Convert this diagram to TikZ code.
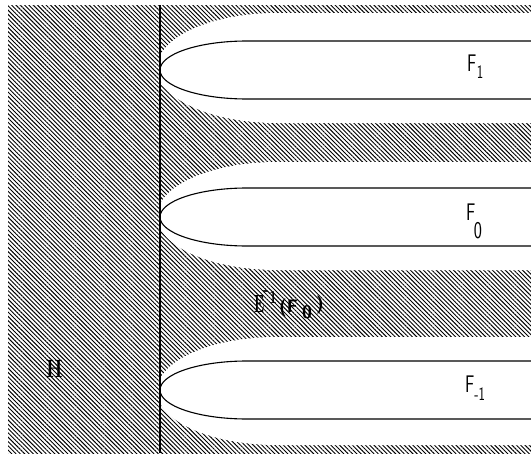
\documentclass[tikz,border=0pt]{standalone}
\usepackage{graphicx}
\usetikzlibrary{patterns.meta}
\newcommand{\sqz}[1]{\scalebox{0.72}[1]{#1}}
\newcommand{\bigsf}{\fontsize{24}{24}\selectfont\sffamily}
\newcommand{\subsf}{\fontsize{19}{19}\selectfont\sffamily}
\begin{document}
\begin{tikzpicture}[x=1pt,y=-1pt,
  hatch/.style={pattern={Lines[angle=-45,distance=3.05pt,line width=0.95pt]},pattern color=black},
  fcurve/.style={draw=black,line width=1.1pt},
  lbl/.style={anchor=base west,inner sep=0pt,text=black}]
\useasboundingbox (0,0) rectangle (531,455);
\fill[white] (0,0) rectangle (531,455);
\fill[hatch] (8,5) rectangle (531,453);
\begin{scope}
  \clip (160,5) rectangle (531,453);
  \foreach \yt/\yb in {13/123,162/270,337/445}{
    \fill[white] (540,\yt) -- (277,\yt) arc[start angle=270,end angle=90,x radius=120,y radius={(\yb-\yt)/2}] -- (540,\yb) -- cycle;
  }
\end{scope}
\begin{scope}
  \clip (0,0) rectangle (531,455);
  \foreach \yc in {70,217,390}{
    \draw[fcurve] (540,\yc-29) -- (247,\yc-29) arc[start angle=270,end angle=90,x radius=87,y radius=29] -- (540,\yc+29);
  }
\end{scope}
\draw[line width=1.1pt] (160,5) -- (160,453);
\node[lbl] (f1) at (467,71) {\bigsf\sqz{F}\kern0.5pt\raisebox{-7pt}{\subsf\sqz{1}}};
\node[lbl] (f0) at (466,220) {\bigsf\sqz{F}\kern-1.5pt\raisebox{-18pt}{\sqz{0}}};
\node[lbl] (fm1) at (465,392) {\bigsf\sqz{F}\raisebox{-8pt}{\subsf\sqz{-1}}};
\node[lbl] (h) at (46,377) {\fontsize{25}{25}\selectfont\rmfamily\bfseries\scalebox{0.75}[1]{H}};
\node[lbl] (eE) at (254,312) {\fontsize{25}{25}\selectfont\rmfamily\bfseries\scalebox{0.55}[1]{E}};
\node[lbl] (esup) at (263,303) {\fontsize{18}{18}\selectfont\rmfamily\bfseries\scalebox{0.75}[1]{\raisebox{8pt}{-}\kern1.5pt 1}};
\node[lbl] (eF) at (279,312) {\fontsize{18}{18}\selectfont\sffamily\bfseries(F};
\node[lbl] (e0) at (302,318) {\fontsize{18}{18}\selectfont\sffamily\bfseries 0};
\node[lbl] (ep) at (316,309) {\fontsize{18}{18}\selectfont\sffamily\bfseries)};
\end{tikzpicture}
\end{document}
